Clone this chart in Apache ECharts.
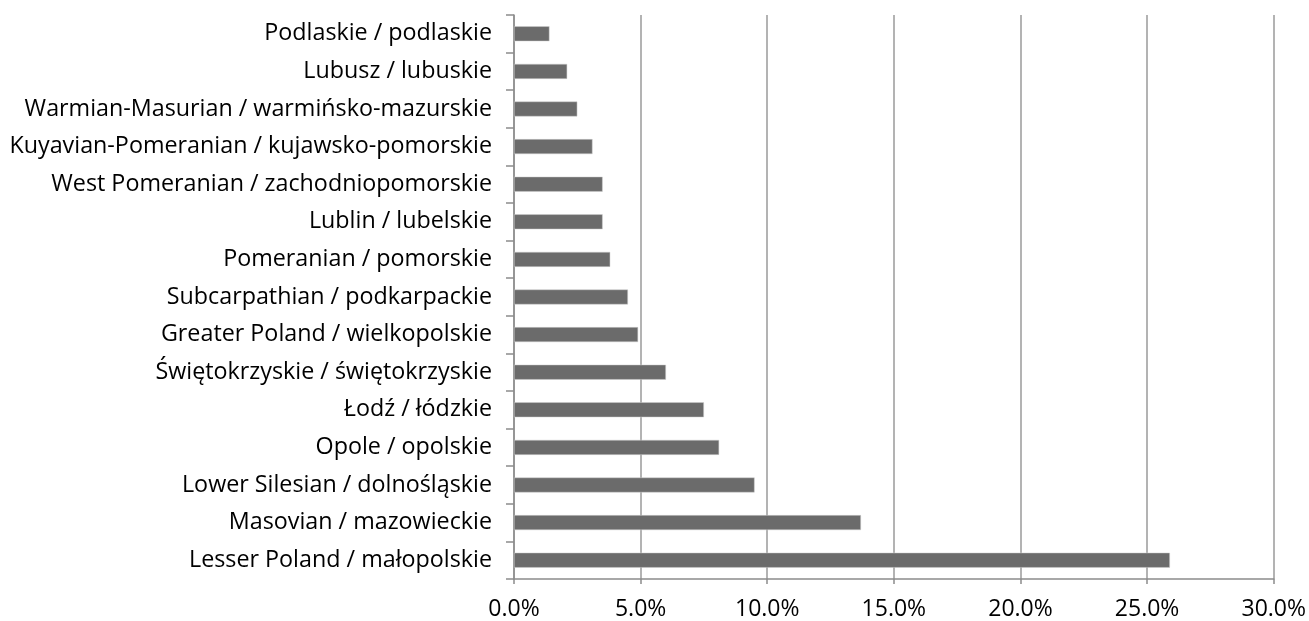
<!DOCTYPE html>
<html>
<head>
<meta charset="utf-8">
<script src="https://cdn.jsdelivr.net/npm/echarts@6/dist/echarts.min.js"></script>
<style>
  html, body { margin: 0; padding: 0; background: #fff; }
  #main { width: 1309px; height: 621px; }
</style>
</head>
<body>
<div id="main"></div>
<script>
// regions, top to bottom as in the picture
var regions = [
  'Podlaskie / podlaskie',
  'Lubusz / lubuskie',
  'Warmian-Masurian / warmińsko-mazurskie',
  'Kuyavian-Pomeranian / kujawsko-pomorskie',
  'West Pomeranian / zachodniopomorskie',
  'Lublin / lubelskie',
  'Pomeranian / pomorskie',
  'Subcarpathian / podkarpackie',
  'Greater Poland / wielkopolskie',
  'Świętokrzyskie / świętokrzyskie',
  'Łodź / łódzkie',
  'Opole / opolskie',
  'Lower Silesian / dolnośląskie',
  'Masovian / mazowieckie',
  'Lesser Poland / małopolskie'
];
// share in percent
var shares = [1.4, 2.1, 2.5, 3.1, 3.5, 3.5, 3.8, 4.5, 4.9, 6.0, 7.5, 8.1, 9.5, 13.7, 25.9];

var chart = echarts.init(document.getElementById('main'));
chart.setOption({
  animation: false,
  textStyle: { fontFamily: 'Open Sans' },
  grid: { left: 514, right: 35, top: 15, bottom: 42, containLabel: false },
  xAxis: {
    type: 'value',
    min: 0,
    max: 30,
    interval: 5,
    axisLine: { show: true, lineStyle: { color: '#8c8c8c', width: 1.5 } },
    axisTick: { show: true, length: 5, lineStyle: { color: '#8c8c8c', width: 1.5 } },
    splitLine: { show: true, lineStyle: { color: '#9a9a9a', width: 1.5 } },
    axisLabel: {
      color: '#000',
      fontSize: 23,
      margin: 19,
      formatter: function (v) { return v.toFixed(1) + '%'; }
    }
  },
  yAxis: {
    type: 'category',
    inverse: true,
    data: regions,
    axisLine: { show: true, lineStyle: { color: '#8c8c8c', width: 1.5 } },
    axisTick: { show: true, length: 8, lineStyle: { color: '#8c8c8c', width: 1.5 } },
    axisLabel: { color: '#000', fontSize: 23.3, margin: 22 }
  },
  series: [{
    type: 'bar',
    data: shares,
    barWidth: 15,
    itemStyle: { color: '#6b6b6b', borderColor: '#d0d0d0', borderWidth: 0.5 }
  }]
});
</script>
</body>
</html>
